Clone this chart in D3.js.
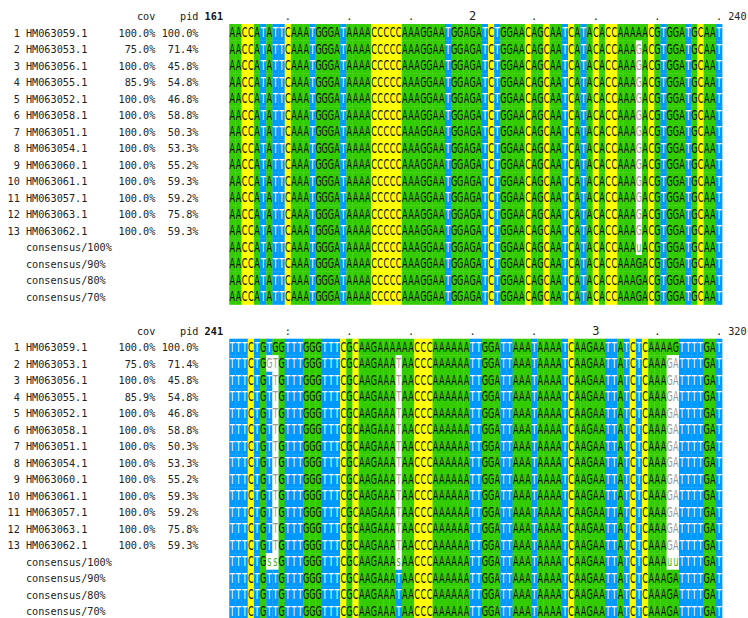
<!DOCTYPE html>
<html>
<head>
<meta charset="utf-8">
<script src="https://cdn.jsdelivr.net/npm/d3@7"></script>
<style>
  body { margin: 0; background: #fff; }
</style>
</head>
<body>
<div id="chart"></div>
<script>
// sequence ids and the cov / pid columns
const seqNames = ["HM063059.1", "HM063053.1", "HM063056.1", "HM063055.1", "HM063052.1",
    "HM063058.1", "HM063051.1", "HM063054.1", "HM063060.1", "HM063061.1",
    "HM063057.1", "HM063063.1", "HM063062.1"];
const covValues = ["100.0%", "75.0%", "100.0%", "85.9%", "100.0%", "100.0%", "100.0%",
    "100.0%", "100.0%", "100.0%", "100.0%", "100.0%", "100.0%"];
const pidValues = ["100.0%", "71.4%", "45.8%", "54.8%", "46.8%", "58.8%", "50.3%",
    "53.3%", "55.2%", "59.3%", "59.2%", "75.8%", "59.3%"];
const consensusLabels = ["consensus/100%", "consensus/90%", "consensus/80%", "consensus/70%"];

const blockStarts = [161, 241];
const blockEnds = [240, 320];

// alignment columns 161-240
const block1Seqs = [
    "AACCATATTCAAATGGGATAAAACCCCCAAAGGAATGGAGATCTGGAACAGCAATCATACACCAAAAACGTGGATGCAAT",
    "AACCATATTCAAATGGGATAAAACCCCCAAAGGAATGGAGATCTGGAACAGCAATCATACACCAAAGACGTGGATGCAAT",
    "AACCATATTCAAATGGGATAAAACCCCCAAAGGAATGGAGATCTGGAACAGCAATCATACACCAAAGACGTGGATGCAAT",
    "AACCATATTCAAATGGGATAAAACCCCCAAAGGAATGGAGATCTGGAACAGCAATCATACACCAAAGACGTGGATGCAAT",
    "AACCATATTCAAATGGGATAAAACCCCCAAAGGAATGGAGATCTGGAACAGCAATCATACACCAAAGACGTGGATGCAAT",
    "AACCATATTCAAATGGGATAAAACCCCCAAAGGAATGGAGATCTGGAACAGCAATCATACACCAAAGACGTGGATGCAAT",
    "AACCATATTCAAATGGGATAAAACCCCCAAAGGAATGGAGATCTGGAACAGCAATCATACACCAAAGACGTGGATGCAAT",
    "AACCATATTCAAATGGGATAAAACCCCCAAAGGAATGGAGATCTGGAACAGCAATCATACACCAAAGACGTGGATGCAAT",
    "AACCATATTCAAATGGGATAAAACCCCCAAAGGAATGGAGATCTGGAACAGCAATCATACACCAAAGACGTGGATGCAAT",
    "AACCATATTCAAATGGGATAAAACCCCCAAAGGAATGGAGATCTGGAACAGCAATCATACACCAAAGACGTGGATGCAAT",
    "AACCATATTCAAATGGGATAAAACCCCCAAAGGAATGGAGATCTGGAACAGCAATCATACACCAAAGACGTGGATGCAAT",
    "AACCATATTCAAATGGGATAAAACCCCCAAAGGAATGGAGATCTGGAACAGCAATCATACACCAAAGACGTGGATGCAAT",
    "AACCATATTCAAATGGGATAAAACCCCCAAAGGAATGGAGATCTGGAACAGCAATCATACACCAAAGACGTGGATGCAAT"
];
const block1Consensus = [
    "AACCATATTCAAATGGGATAAAACCCCCAAAGGAATGGAGATCTGGAACAGCAATCATACACCAAAuACGTGGATGCAAT",
    "AACCATATTCAAATGGGATAAAACCCCCAAAGGAATGGAGATCTGGAACAGCAATCATACACCAAAGACGTGGATGCAAT",
    "AACCATATTCAAATGGGATAAAACCCCCAAAGGAATGGAGATCTGGAACAGCAATCATACACCAAAGACGTGGATGCAAT",
    "AACCATATTCAAATGGGATAAAACCCCCAAAGGAATGGAGATCTGGAACAGCAATCATACACCAAAGACGTGGATGCAAT"
];

// alignment columns 241-320
const block2Seqs = [
    "TTTCTGTGGTTTGGGTTTCGCAAGAAAAAACCCAAAAAATTGGATTAAATAAAATCAAGAATTATCTCAAAAGTTTTGAT",
    "TTTCTGGTGTTTGGGTTTCGCAAGAAATAACCCAAAAAATTGGATTAAATAAAATCAAGAATTATCTCAAAGATTTTGAT",
    "TTTCTGTTGTTTGGGTTTCGCAAGAAATAACCCAAAAAATTGGATTAAATAAAATCAAGAATTATCTCAAAGATTTTGAT",
    "TTTCTGTTGTTTGGGTTTCGCAAGAAATAACCCAAAAAATTGGATTAAATAAAATCAAGAATTATCTCAAAGATTTTGAT",
    "TTTCTGTTGTTTGGGTTTCGCAAGAAATAACCCAAAAAATTGGATTAAATAAAATCAAGAATTATCTCAAAGATTTTGAT",
    "TTTCTGTTGTTTGGGTTTCGCAAGAAATAACCCAAAAAATTGGATTAAATAAAATCAAGAATTATCTCAAAGATTTTGAT",
    "TTTCTGTTGTTTGGGTTTCGCAAGAAATAACCCAAAAAATTGGATTAAATAAAATCAAGAATTATCTCAAAGATTTTGAT",
    "TTTCTGTTGTTTGGGTTTCGCAAGAAATAACCCAAAAAATTGGATTAAATAAAATCAAGAATTATCTCAAAGATTTTGAT",
    "TTTCTGTTGTTTGGGTTTCGCAAGAAATAACCCAAAAAATTGGATTAAATAAAATCAAGAATTATCTCAAAGATTTTGAT",
    "TTTCTGTTGTTTGGGTTTCGCAAGAAATAACCCAAAAAATTGGATTAAATAAAATCAAGAATTATCTCAAAGATTTTGAT",
    "TTTCTGTTGTTTGGGTTTCGCAAGAAATAACCCAAAAAATTGGATTAAATAAAATCAAGAATTATCTCAAAGATTTTGAT",
    "TTTCTGTTGTTTGGGTTTCGCAAGAAATAACCCAAAAAATTGGATTAAATAAAATCAAGAATTATCTCAAAGATTTTGAT",
    "TTTCTGTTGTTTGGGTTTCGCAAGAAATAACCCAAAAAATTGGATTAAATAAAATCAAGAATTATCTCAAAGATTTTGAT"
];
const block2Consensus = [
    "TTTCTGssGTTTGGGTTTCGCAAGAAAsAACCCAAAAAATTGGATTAAATAAAATCAAGAATTATCTCAAAuuTTTTGAT",
    "TTTCTGTTGTTTGGGTTTCGCAAGAAATAACCCAAAAAATTGGATTAAATAAAATCAAGAATTATCTCAAAGATTTTGAT",
    "TTTCTGTTGTTTGGGTTTCGCAAGAAATAACCCAAAAAATTGGATTAAATAAAATCAAGAATTATCTCAAAGATTTTGAT",
    "TTTCTGTTGTTTGGGTTTCGCAAGAAATAACCCAAAAAATTGGATTAAATAAAATCAAGAATTATCTCAAAGATTTTGAT"
];

const blocks = [
    { start: blockStarts[0], end: blockEnds[0], seqs: block1Seqs, cons: block1Consensus, top: 24 },
    { start: blockStarts[1], end: blockEnds[1], seqs: block2Seqs, cons: block2Consensus, top: 338.7 }
];

const residueFill = { A: "#33cc00", G: "#33cc00", C: "#ffff00", T: "#0099ff" };
const residueText = { A: "#111", G: "#111", C: "#111", T: "#fff" };

const width = 748, height = 618;
const cw = 6.16, x0 = 7.5;       // monospace grid used by the whole listing
const gx = i => x0 + i * cw;
const rowH = 16.5;
const nCols = 80;
const squeeze = 0.6;             // horizontal squeeze of the residue glyphs

const svg = d3.select("#chart").append("svg")
    .attr("width", width)
    .attr("height", height)
    .style("display", "block");

const x = d3.scaleBand().domain(d3.range(nCols)).range([gx(36), gx(116)]).padding(0);
const y = d3.scaleBand().domain(d3.range(17)).range([0, 17 * rowH]).padding(0);

const monoFont = "'DejaVu Sans Mono', monospace";

blocks.forEach(block => {
    const g = svg.append("g").attr("transform", `translate(0,${block.top})`);

    // header line: cov, pid, start position, ruler, end position
    g.append("text").attr("x", gx(24)).attr("y", -4).attr("text-anchor", "end")
        .attr("font-family", monoFont).attr("font-size", "10.2px").attr("fill", "#222").text("cov");
    g.append("text").attr("x", gx(31)).attr("y", -4).attr("text-anchor", "end")
        .attr("font-family", monoFont).attr("font-size", "10.2px").attr("fill", "#222").text("pid");
    g.append("text").attr("x", gx(32)).attr("y", -4)
        .attr("font-family", monoFont).attr("font-size", "10.2px").attr("font-weight", "bold")
        .attr("fill", "#111").text(block.start);
    g.append("text").attr("x", gx(117)).attr("y", -4)
        .attr("font-family", monoFont).attr("font-size", "10.2px").attr("fill", "#222").text(block.end);

    const ticks = d3.range(nCols).filter(i => (block.start + i) % 10 === 0).map(i => {
        const pos = block.start + i;
        let s = ".";
        if (pos % 100 === 0) s = String((pos / 100) % 10);
        else if (pos % 50 === 0) s = ":";
        return { i, s };
    });
    g.append("g").selectAll("text")
        .data(ticks)
        .join("text")
        .attr("x", d => x(d.i) + x.bandwidth() / 2)
        .attr("y", -4)
        .attr("text-anchor", "middle")
        .attr("font-family", monoFont)
        .attr("font-size", d => d.s === "." || d.s === ":" ? "10.2px" : "12px")
        .attr("fill", "#222")
        .text(d => d.s);

    // rows: 13 sequences then 4 consensus lines
    const ref = block.seqs[0];
    const rows = block.seqs.map((s, r) => ({ r, s, cons: false }))
        .concat(block.cons.map((s, k) => ({ r: 13 + k, s, cons: true })));

    const labels = g.append("g")
        .attr("font-family", monoFont)
        .attr("font-size", "10.2px")
        .attr("fill", "#222");
    rows.forEach(row => {
        const ty = y(row.r) + 12.7;
        if (!row.cons) {
            labels.append("text").attr("x", gx(2)).attr("y", ty).attr("text-anchor", "end").text(row.r + 1);
            labels.append("text").attr("x", gx(3)).attr("y", ty).text(seqNames[row.r]);
            labels.append("text").attr("x", gx(24)).attr("y", ty).attr("text-anchor", "end").text(covValues[row.r]);
            labels.append("text").attr("x", gx(31)).attr("y", ty).attr("text-anchor", "end").text(pidValues[row.r]);
        } else {
            labels.append("text").attr("x", gx(3)).attr("y", ty).text(consensusLabels[row.r - 13]);
        }
    });

    // one cell per residue, coloured when it matches the first sequence
    rows.forEach(row => {
        row.cells = row.s.split("").map((ch, i) => {
            let fill, color;
            if (row.cons) {
                if (residueFill[ch]) { fill = residueFill[ch]; color = residueText[ch]; }
                else { fill = "#fff"; color = "#44b000"; }
            } else if (ch === ref[i]) {
                fill = residueFill[ch]; color = residueText[ch];
            } else {
                fill = "#fff"; color = "#999";
            }
            return { r: row.r, i, ch, fill, color };
        });
    });

    g.append("g").selectAll("rect")
        .data(rows.flatMap(row => row.cells))
        .join("rect")
        .attr("x", d => x(d.i))
        .attr("y", d => y(d.r))
        .attr("width", x.bandwidth() + 0.3)
        .attr("height", y.bandwidth() + 0.3)
        .attr("fill", d => d.fill);

    // each row's residues as one text line, squeezed to the column width
    g.append("g").selectAll("text")
        .data(rows)
        .join("text")
        .attr("transform", d => `translate(0,${y(d.r) + 13}) scale(${squeeze},1)`)
        .attr("text-anchor", "middle")
        .attr("font-family", "'DejaVu Sans', sans-serif")
        .attr("font-size", "13.5px")
        .selectAll("tspan")
        .data(d => d.cells)
        .join("tspan")
        .attr("x", d => (x(d.i) + x.bandwidth() / 2) / squeeze)
        .attr("y", 0)
        .attr("fill", d => d.color)
        .text(d => d.ch);
});
</script>
</body>
</html>
